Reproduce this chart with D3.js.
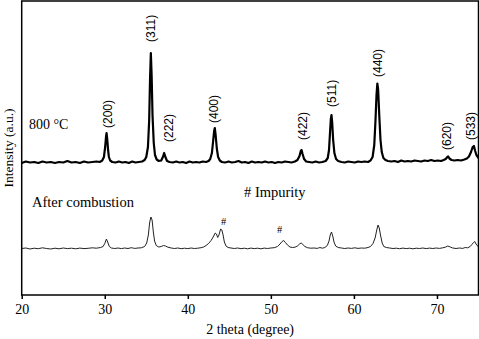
<!DOCTYPE html>
<html>
<head>
<meta charset="utf-8">
<script src="https://cdn.jsdelivr.net/npm/d3@7"></script>
<style>
  html, body { margin: 0; padding: 0; background: #fff; }
  svg { display: block; }
  .serif { font-family: "Liberation Serif", "DejaVu Serif", serif; fill: #000; }
  .hkl { font-family: "Liberation Sans", Arial, sans-serif; font-size: 12px; fill: #000; }
  .tick text { font-family: "Liberation Serif", serif; font-size: 14px; fill: #000; }
</style>
</head>
<body>
<div id="chart"></div>
<script>
// x axis ticks (2 theta, degree)
const xTicks = [20, 30, 40, 50, 60, 70];

// 800 °C pattern, [2theta, intensity a.u.]
const sample800 = [
  [20.0,132],[20.5,133.5],[21.0,132.5],[21.5,133],[22.0,132],[22.5,133.5],[23.0,132.5],[23.5,133],
  [24.0,132],[24.5,133],[25.0,132.5],[25.5,134],[26.0,132.5],[26.5,133],[27.0,132],[27.5,133.5],
  [28.0,132.5],[28.5,133],[29.0,133.5],[29.4,133],[29.7,134.5],[29.9,138],[30.05,148],[30.15,158],
  [30.22,162],[30.3,156],[30.4,145],[30.5,138],[30.65,134.5],[30.9,133],[31.3,132.5],[31.7,133.5],
  [32.1,132.5],[32.5,133],[32.9,132],[33.3,133.5],[33.7,132.5],[34.1,133],[34.5,133.5],[34.8,135],
  [35.0,138],[35.2,148],[35.35,175],[35.45,215],[35.55,242],[35.65,218],[35.75,180],[35.9,152],
  [36.05,140],[36.25,135.5],[36.5,134],[36.8,134.5],[37.0,138],[37.15,142],[37.3,138],[37.5,134],
  [37.8,133],[38.2,132.5],[38.6,133.5],[39.0,132.5],[39.4,133],[39.8,132],[40.2,133.5],[40.6,132.5],
  [41.0,133],[41.4,132.5],[41.8,133.5],[42.2,133],[42.5,134],[42.7,136],[42.9,142],[43.05,154],
  [43.17,164],[43.25,167],[43.35,160],[43.5,146],[43.65,138],[43.85,134.5],[44.1,133],[44.5,132.5],
  [44.9,133.5],[45.3,132.5],[45.7,133],[46.1,134],[46.5,132.5],[46.9,133],[47.3,132],[47.7,133.5],
  [48.1,132.5],[48.5,133],[48.9,132.5],[49.3,133.5],[49.7,132.5],[50.1,133],[50.5,132],[50.9,133],
  [51.3,132.5],[51.7,133.5],[52.1,133],[52.5,132.5],[52.9,133.5],[53.2,135],[53.45,139],[53.6,144],
  [53.7,145],[53.82,141],[54.0,136],[54.25,133.5],[54.6,133],[55.0,132.5],[55.4,133.5],[55.8,132.5],
  [56.2,133],[56.6,134],[56.85,137],[57.0,145],[57.12,162],[57.22,176],[57.3,180],[57.38,173],
  [57.5,155],[57.65,142],[57.85,136],[58.1,134],[58.5,133],[58.9,132.5],[59.3,133.5],[59.7,133],
  [60.1,132.5],[60.5,133.5],[60.9,133],[61.3,133.5],[61.7,133],[62.0,134.5],[62.25,138],[62.45,150],
  [62.6,175],[62.72,200],[62.82,211.5],[62.92,205],[63.05,180],[63.2,155],[63.35,143],[63.55,137],
  [63.8,135],[64.1,134],[64.5,133.5],[64.9,134],[65.3,133],[65.7,134.5],[66.1,133.5],[66.5,134],
  [66.9,133.5],[67.3,134.5],[67.7,134],[68.1,133.5],[68.5,134.5],[68.9,134],[69.3,135],[69.7,134],
  [70.1,134.5],[70.5,134],[70.8,135],[71.05,136],[71.25,138],[71.35,138.5],[71.5,136.5],[71.75,135],
  [72.1,134.5],[72.5,135],[72.9,134.5],[73.3,135.5],[73.6,136.5],[73.85,138.5],[74.1,143],[74.3,148],
  [74.45,149],[74.6,144],[74.75,140],[75.0,137]
];

// after combustion pattern, [2theta, intensity a.u.]
const sampleCombustion = [
  [20.0,46.5],[20.5,47],[21.0,46],[21.5,46.8],[22.0,46.3],[22.5,47.2],[23.0,46.5],[23.5,46],
  [24.0,46.8],[24.5,46.2],[25.0,47],[25.5,46.4],[26.0,46.8],[26.5,46.2],[27.0,46.9],[27.5,46.4],
  [28.0,46.7],[28.5,47.2],[29.0,46.8],[29.5,47.5],[29.8,48.5],[30.0,51.5],[30.2,56],[30.35,53],
  [30.55,48.5],[30.8,47],[31.2,46.5],[31.6,47],[32.0,46.4],[32.4,47],[32.8,46.5],[33.2,47.3],
  [33.6,46.6],[34.0,47],[34.4,47.2],[34.8,48.5],[35.05,52],[35.25,60],[35.4,72],[35.55,78],
  [35.7,75],[35.85,63],[36.0,54],[36.2,49.5],[36.5,48],[36.8,48.5],[37.1,49.5],[37.3,49],
  [37.6,47.8],[38.0,47],[38.4,46.5],[38.8,47],[39.2,46.3],[39.6,46.8],[40.0,46.4],[40.4,47],
  [40.8,46.5],[41.2,46.8],[41.6,47.3],[41.9,48],[42.2,49.5],[42.5,51.5],[42.8,54.5],[43.05,58],
  [43.3,62],[43.45,61],[43.6,57.5],[43.75,60],[43.95,66],[44.1,65],[44.25,60],[44.4,53],
  [44.6,49],[44.85,47.5],[45.2,47],[45.6,46.5],[46.0,47],[46.4,46.3],[46.8,46.8],[47.2,46.2],
  [47.6,46.9],[48.0,46.4],[48.4,46.8],[48.8,46.2],[49.2,46.9],[49.6,46.5],[50.0,47],[50.4,47.3],
  [50.8,48.5],[51.1,51],[51.35,53.5],[51.55,54.5],[51.75,52.5],[52.0,50],[52.3,48],[52.6,47.5],
  [52.9,47.8],[53.2,49],[53.45,51],[53.65,52],[53.85,50.5],[54.1,48.5],[54.4,47.3],[54.8,46.8],
  [55.2,47],[55.6,46.6],[55.9,47.5],[56.2,46.8],[56.5,47.5],[56.8,49.5],[57.0,54],[57.15,60],
  [57.3,63],[57.45,59],[57.6,53],[57.8,49],[58.1,47.5],[58.5,47],[58.9,46.5],[59.3,47],
  [59.7,46.6],[60.1,47.2],[60.5,46.6],[60.9,47],[61.3,46.8],[61.7,47.5],[62.0,48.5],[62.3,51.5],
  [62.55,57],[62.75,65],[62.9,70],[63.05,67],[63.2,60],[63.4,52],[63.6,48.5],[63.9,47.5],
  [64.3,47],[64.7,46.5],[65.1,46.8],[65.5,46.3],[65.9,46.9],[66.3,46.4],[66.7,46.8],[67.1,46.2],
  [67.5,46.8],[67.9,46.5],[68.3,47],[68.7,46.4],[69.1,46.9],[69.5,46.5],[69.9,47],[70.3,46.6],
  [70.7,47.2],[71.0,47.8],[71.3,49],[71.6,48],[71.9,47],[72.3,46.5],[72.7,47],[73.1,46.6],
  [73.4,47.5],[73.7,47.2],[74.0,48.5],[74.2,50.5],[74.4,52.5],[74.55,53.5],[74.7,51],[75.0,48]
];

// (hkl) labels: name, 2theta of label, intensity where label starts
const hklNames = ["(200)", "(311)", "(222)", "(400)", "(422)", "(511)", "(440)", "(620)", "(533)"];
const hklTheta = [30.4, 35.6, 37.7, 43.1, 53.8, 57.3, 62.85, 71.15, 74.1];
const hklStart = [167, 253, 153, 172, 155, 188, 218, 145, 155];

// impurity marks: 2theta, intensity
const impurityTheta = [44.3, 51.05];
const impurityLevel = [74, 65.5];

const W = 479, H = 339;
const mLeft = 21.7, mRight = 478.5, mTop = 1, mBottom = 295;

const svg = d3.select("#chart").append("svg")
  .attr("width", W)
  .attr("height", H);

const x = d3.scaleLinear().domain([20, 75]).range([mLeft, mRight]);
const y = d3.scaleLinear().domain([0, 294]).range([mBottom, mTop]);

svg.append("clipPath").attr("id", "plotclip")
  .append("rect")
  .attr("x", mLeft).attr("y", mTop)
  .attr("width", mRight - mLeft).attr("height", mBottom - mTop);

const line = d3.line()
  .x(d => x(d[0]))
  .y(d => y(d[1]));

// Traces
svg.append("path")
  .datum(sampleCombustion)
  .attr("clip-path", "url(#plotclip)")
  .attr("fill", "none")
  .attr("stroke", "#222")
  .attr("stroke-width", 1)
  .attr("stroke-linejoin", "round")
  .attr("d", line);

svg.append("path")
  .datum(sample800)
  .attr("clip-path", "url(#plotclip)")
  .attr("fill", "none")
  .attr("stroke", "#000")
  .attr("stroke-width", 2.2)
  .attr("stroke-linejoin", "round")
  .attr("d", line);

// Frame
svg.append("rect")
  .attr("x", mLeft).attr("y", mTop)
  .attr("width", mRight - mLeft).attr("height", mBottom - mTop)
  .attr("fill", "none")
  .attr("stroke", "#000")
  .attr("stroke-width", 1.5);

// X axis
const xAxis = svg.append("g")
  .attr("transform", "translate(0," + mBottom + ")")
  .call(d3.axisBottom(x).tickValues(xTicks).tickSize(4).tickSizeOuter(0).tickPadding(5));
xAxis.select(".domain").remove();
xAxis.selectAll(".tick line").attr("stroke", "#000").attr("stroke-width", 1.5);

// Axis titles
svg.append("text")
  .attr("class", "serif")
  .attr("x", (mLeft + mRight) / 2)
  .attr("y", 334)
  .attr("text-anchor", "middle")
  .style("font-size", "14px")
  .text("2 theta (degree)");

svg.append("text")
  .attr("class", "serif")
  .attr("transform", "translate(13," + (mTop + mBottom) / 2 + ") rotate(-90)")
  .attr("text-anchor", "middle")
  .style("font-size", "13.5px")
  .text("Intensity (a.u.)");

// hkl labels
for (let i = 0; i < hklNames.length; ++i) {
  svg.append("text")
    .attr("class", "hkl")
    .attr("transform", "translate(" + x(hklTheta[i]) + "," + y(hklStart[i]) + ") rotate(-90)")
    .attr("text-anchor", "start")
    .attr("dy", "0.35em")
    .text(hklNames[i]);
}

// Impurity marks
for (let i = 0; i < impurityTheta.length; ++i) {
  svg.append("text")
    .attr("class", "serif")
    .attr("x", x(impurityTheta[i]))
    .attr("y", y(impurityLevel[i]))
    .attr("text-anchor", "middle")
    .attr("dy", "0.35em")
    .style("font-size", "10.5px")
    .text("#");
}

// Sample labels
svg.append("text")
  .attr("class", "serif")
  .attr("x", 29).attr("y", 129)
  .style("font-size", "14px")
  .text("800 °C");

svg.append("text")
  .attr("class", "serif")
  .attr("x", 32).attr("y", 207)
  .style("font-size", "14.5px")
  .text("After combustion");

svg.append("text")
  .attr("class", "serif")
  .attr("x", 244).attr("y", 197)
  .style("font-size", "14.5px")
  .text("# Impurity");
</script>
</body>
</html>
